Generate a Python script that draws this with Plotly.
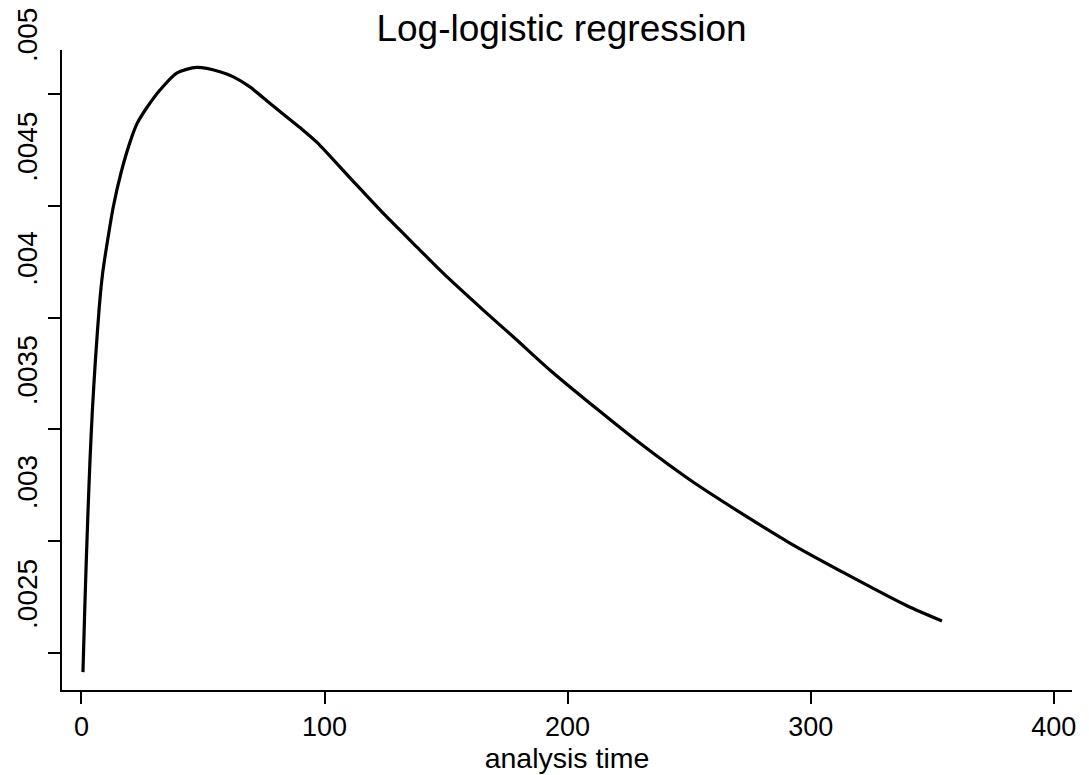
import plotly.graph_objects as go

# Values
analysis_time = [0.62, 1.35, 2.00, 2.72, 3.52, 4.50, 5.75, 7.33, 8.72, 10.78, 13.09,
                 16.26, 20.25, 22.96, 27.08, 32.30, 39.18, 47.41, 57.0, 62.5, 69.3,
                 77.6, 89.9, 96.8, 110.5, 124.2, 137.9, 148.9, 165.3, 179.1, 192.8,
                 213.4, 229.8, 250.4, 273.7, 291.6, 314.9, 339.6, 354.0]
hazard = [.002415, .002692, .002916, .003140, .003363, .003587, .003810, .004047,
          .004199, .004347, .004495, .004647, .004794, .004870, .004942, .005018,
          .005094, .005119, .005100, .005077, .005032, .004958, .004850, .004785,
          .004625, .004466, .004317, .004198, .004034, .003900, .003765, .003580,
          .003438, .003274, .003110, .002991, .002852, .002712, .002644]

x_ticks = [0, 100, 200, 300, 400]
y_ticks = [0.0025, 0.003, 0.0035, 0.004, 0.0045, 0.005]
y_tick_labels = [".0025", ".003", ".0035", ".004", ".0045", ".005"]

title_text = "Log-logistic regression"
x_title = "analysis time"

FONT = "Liberation Sans, Arial, Helvetica, sans-serif"

fig = go.Figure()
fig.add_trace(go.Scatter(
    x=analysis_time, y=hazard, mode="lines",
    line=dict(color="black", width=3.2, shape="spline", smoothing=0.7),
    showlegend=False, hoverinfo="skip",
))

# The page body adds an 8px margin, so the figure is sized to fit the window.
fig.update_layout(
    width=1081, height=767,
    margin=dict(l=54, r=17, t=42, b=85),
    paper_bgcolor="white", plot_bgcolor="white",
    font=dict(family=FONT, color="black"),
    title=dict(text=title_text, x=0.4946, xref="paper", xanchor="center",
               y=0.991, yref="container", yanchor="top",
               font=dict(size=37, family=FONT, color="black")),
)

fig.update_xaxes(
    range=[-8.0, 407.5], tickvals=x_ticks, automargin=False,
    showgrid=False, zeroline=False,
    showline=True, linecolor="black", linewidth=1.6,
    ticks="outside", ticklen=12, tickwidth=1.5, tickcolor="black",
    tickfont=dict(size=27, family=FONT, color="black"),
    title=dict(text=x_title, font=dict(size=28.5, family=FONT, color="black"), standoff=4),
)
fig.update_yaxes(
    range=[0.002335, 0.005197], tickvals=y_ticks, ticktext=y_tick_labels,
    automargin=False, ticklabeloverflow="allow",
    showgrid=False, zeroline=False,
    showline=True, linecolor="black", linewidth=1.6,
    ticks="outside", ticklen=12, tickwidth=1.5, tickcolor="black",
    tickangle=-90, ticklabelshift=-55,
    tickfont=dict(size=28, family=FONT, color="black"),
)

fig.write_html("out.html")
